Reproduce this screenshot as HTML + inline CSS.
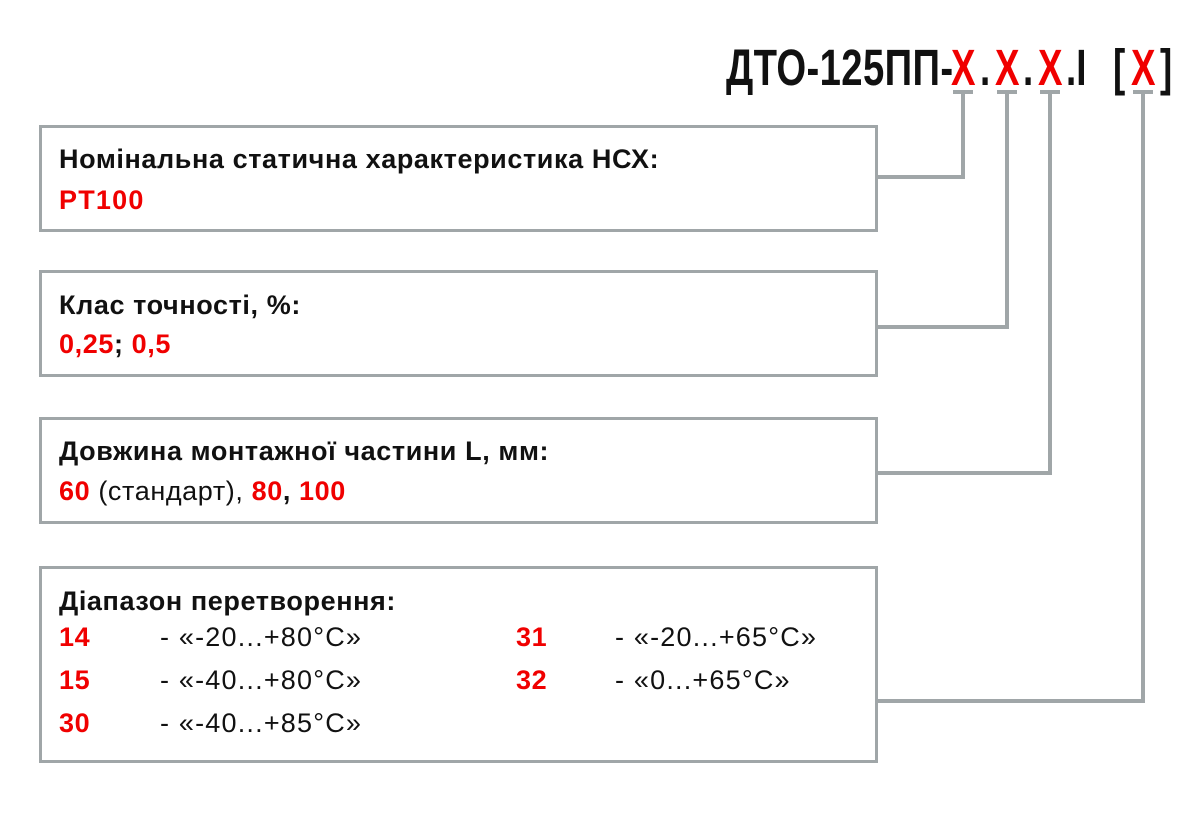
<!DOCTYPE html>
<html><head><meta charset="utf-8"><style>
body{margin:0;width:1200px;height:814px;background:#fff;position:relative;overflow:hidden;font-family:"Liberation Sans",sans-serif;}
.box{position:absolute;left:39px;width:833px;border:3px solid #a0a6a8;background:#fff;}
.t{position:absolute;font-size:27px;font-weight:bold;color:#111;white-space:nowrap;letter-spacing:0.6px;line-height:32px;}
.r{color:#f00000;font-weight:bold;}
.n{font-weight:normal;}
.s{letter-spacing:1.2px;}
.ti{position:absolute;top:38px;font-size:51px;line-height:60px;font-weight:bold;transform:scaleX(0.72);transform-origin:0 0;white-space:nowrap;color:#111;}
.ti.r{color:#f00000;}
</style></head><body>
<svg width="1200" height="814" style="position:absolute;left:0;top:0">
<g stroke="#a0a6a8" stroke-width="4" fill="none">
<path d="M953 92H973M963 92V177H875"/>
<path d="M997 92H1017M1007 92V327H875"/>
<path d="M1040 92H1060M1050 92V473H875"/>
<path d="M1133 92H1153M1143 92V701H875"/>
</g></svg>
<div class="ti" style="left:726px;transform:scaleX(0.75);letter-spacing:0.5px">ДТО-125ПП-</div>
<div class="ti r" style="left:951px">Х</div>
<div class="ti" style="left:980px">.</div>
<div class="ti r" style="left:995px">Х</div>
<div class="ti" style="left:1023px">.</div>
<div class="ti r" style="left:1038px">Х</div>
<div class="ti" style="left:1066px">.I</div>
<div class="ti" style="left:1113px">[</div>
<div class="ti r" style="left:1131px">Х</div>
<div class="ti" style="left:1160px">]</div>
<div class="box" style="top:125px;height:101px"></div>
<div class="box" style="top:270px;height:101px"></div>
<div class="box" style="top:417px;height:101px"></div>
<div class="box" style="top:566px;height:191px"></div>
<div class="t" style="left:59px;top:143px">Номінальна статична характеристика НСХ:</div>
<div class="t r s" style="left:59px;top:184px">PT100</div>
<div class="t" style="left:59px;top:289px">Клас точності, %:</div>
<div class="t" style="left:59px;top:328px"><span class="r">0,25</span>; <span class="r">0,5</span></div>
<div class="t" style="left:59px;top:435px">Довжина монтажної частини L, мм:</div>
<div class="t" style="left:59px;top:475px"><span class="r">60</span> <span class="n">(стандарт),</span> <span class="r">80</span>, <span class="r">100</span></div>
<div class="t" style="left:59px;top:585px">Діапазон перетворення:</div>
<div class="t r" style="left:59px;top:621px">14</div>
<div class="t n s" style="left:160px;top:621px">- «-20...+80°С»</div>
<div class="t r" style="left:59px;top:664px">15</div>
<div class="t n s" style="left:160px;top:664px">- «-40...+80°С»</div>
<div class="t r" style="left:59px;top:707px">30</div>
<div class="t n s" style="left:160px;top:707px">- «-40...+85°С»</div>
<div class="t r" style="left:516px;top:621px">31</div>
<div class="t n s" style="left:615px;top:621px">- «-20...+65°С»</div>
<div class="t r" style="left:516px;top:664px">32</div>
<div class="t n s" style="left:615px;top:664px">- «0...+65°С»</div>
</body></html>
